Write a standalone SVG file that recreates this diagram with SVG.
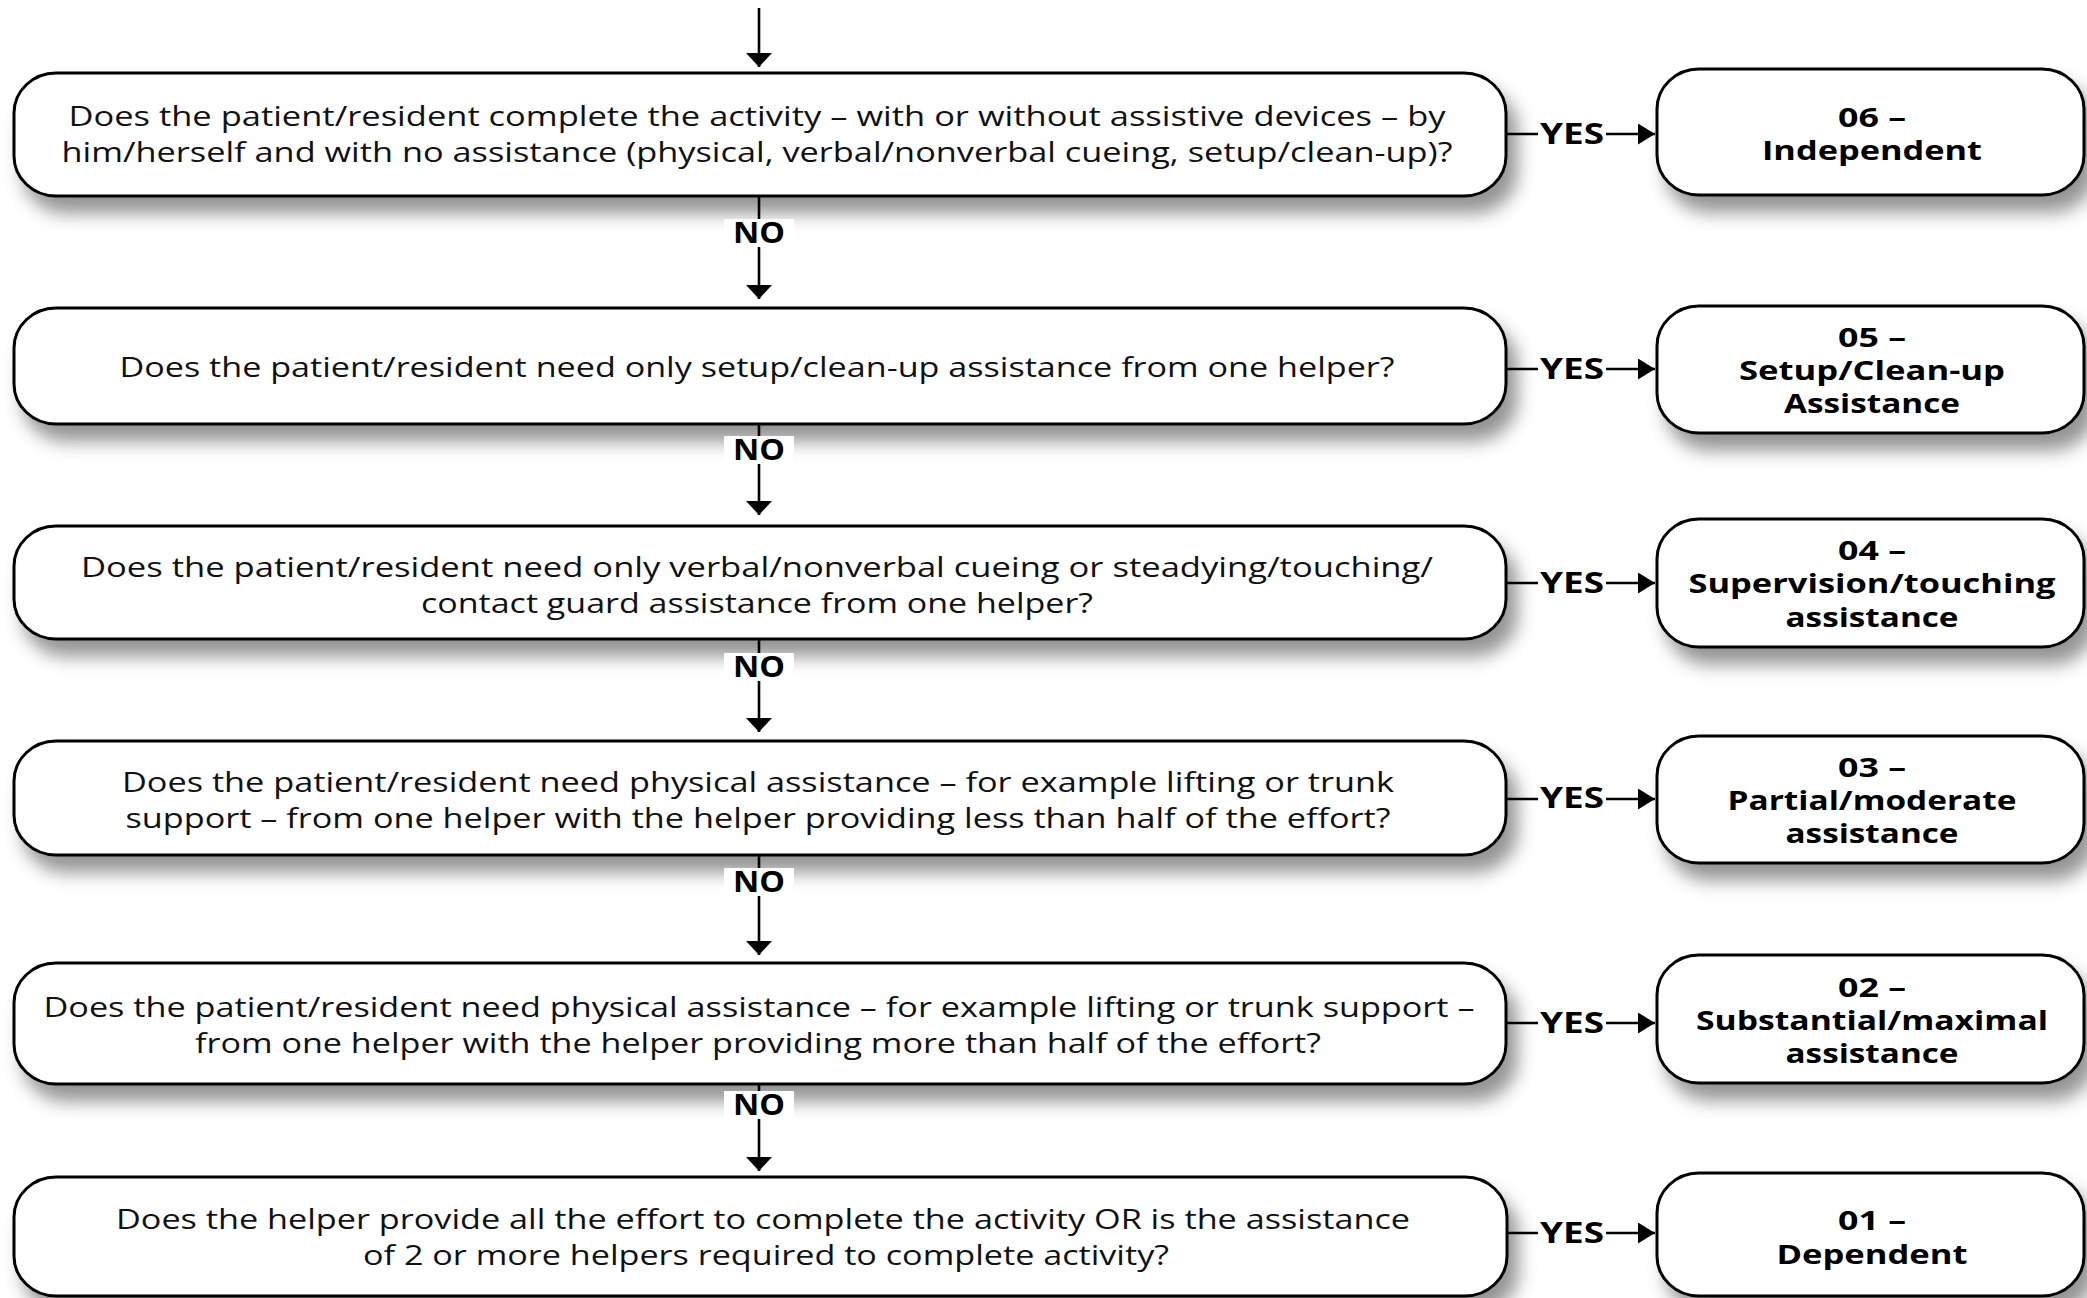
<svg xmlns="http://www.w3.org/2000/svg" width="2087" height="1298" viewBox="0 0 2087 1298">
<defs>
<filter id="sh" x="-10%" y="-30%" width="125%" height="180%">
<feDropShadow dx="10" dy="16" stdDeviation="9" flood-color="#000" flood-opacity="0.42"/>
</filter>
<marker id="ad" viewBox="0 0 14 26" refX="14" refY="13" markerWidth="14" markerHeight="26" markerUnits="userSpaceOnUse" orient="auto">
<path d="M0,0 L14,13 L0,26 Z" fill="#000"/>
</marker>
<marker id="ar" viewBox="0 0 17 21" refX="17" refY="10.5" markerWidth="17" markerHeight="21" markerUnits="userSpaceOnUse" orient="auto">
<path d="M0,0 L17,10.5 L0,21 Z" fill="#000"/>
</marker>
</defs>
<style>
.q{fill:#fff;stroke:#000;stroke-width:3}
.t{font-family:"Open Sans","Noto Sans",sans-serif;font-size:28px;fill:#111;text-anchor:middle}
.b{font-family:"Open Sans","Noto Sans",sans-serif;font-size:27px;font-weight:bold;fill:#000;text-anchor:middle}
.l{font-family:"Open Sans","Noto Sans",sans-serif;font-size:28px;font-weight:bold;fill:#000;text-anchor:middle}
.c{fill:none;stroke:#000;stroke-width:2.6}
.bg{fill:#fff}
</style>
<rect width="2087" height="1298" fill="#fff"/>

<g id="q1">
<rect class="q" filter="url(#sh)" x="14" y="73" width="1492" height="123" rx="42" ry="40"/>
<text class="t" x="757" y="126" textLength="1377" lengthAdjust="spacingAndGlyphs">Does the patient/resident complete the activity – with or without assistive devices – by</text>
<text class="t" x="757" y="162" textLength="1391" lengthAdjust="spacingAndGlyphs">him/herself and with no assistance (physical, verbal/nonverbal cueing, setup/clean-up)?</text>
</g>
<g id="q2">
<rect class="q" filter="url(#sh)" x="14" y="308" width="1492" height="116" rx="42" ry="40"/>
<text class="t" x="757" y="377" textLength="1275" lengthAdjust="spacingAndGlyphs">Does the patient/resident need only setup/clean-up assistance from one helper?</text>
</g>
<g id="q3">
<rect class="q" filter="url(#sh)" x="14" y="526" width="1492" height="113" rx="42" ry="40"/>
<text class="t" x="757" y="577" textLength="1352" lengthAdjust="spacingAndGlyphs">Does the patient/resident need only verbal/nonverbal cueing or steadying/touching/</text>
<text class="t" x="757" y="613" textLength="672" lengthAdjust="spacingAndGlyphs">contact guard assistance from one helper?</text>
</g>
<g id="q4">
<rect class="q" filter="url(#sh)" x="14" y="741" width="1492" height="114" rx="42" ry="40"/>
<text class="t" x="758" y="792" textLength="1272" lengthAdjust="spacingAndGlyphs">Does the patient/resident need physical assistance – for example lifting or trunk</text>
<text class="t" x="758" y="828" textLength="1265" lengthAdjust="spacingAndGlyphs">support – from one helper with the helper providing less than half of the effort?</text>
</g>
<g id="q5">
<rect class="q" filter="url(#sh)" x="14" y="963" width="1492" height="121" rx="42" ry="40"/>
<text class="t" x="759" y="1017" textLength="1431" lengthAdjust="spacingAndGlyphs">Does the patient/resident need physical assistance – for example lifting or trunk support –</text>
<text class="t" x="758" y="1053" textLength="1126" lengthAdjust="spacingAndGlyphs">from one helper with the helper providing more than half of the effort?</text>
</g>
<g id="q6">
<rect class="q" filter="url(#sh)" x="14" y="1177" width="1493" height="119" rx="42" ry="40"/>
<text class="t" x="763" y="1229" textLength="1294" lengthAdjust="spacingAndGlyphs">Does the helper provide all the effort to complete the activity OR is the assistance</text>
<text class="t" x="766" y="1265" textLength="806" lengthAdjust="spacingAndGlyphs">of 2 or more helpers required to complete activity?</text>
</g>

<g id="r06">
<rect class="q" filter="url(#sh)" x="1657" y="69" width="427" height="126" rx="42" ry="40"/>
<text class="b" x="1872" y="127" textLength="68" lengthAdjust="spacingAndGlyphs">06 –</text>
<text class="b" x="1872" y="160" textLength="220" lengthAdjust="spacingAndGlyphs">Independent</text>
</g>
<g id="r05">
<rect class="q" filter="url(#sh)" x="1657" y="306" width="427" height="127" rx="42" ry="40"/>
<text class="b" x="1872" y="347" textLength="68" lengthAdjust="spacingAndGlyphs">05 –</text>
<text class="b" x="1872" y="380" textLength="266" lengthAdjust="spacingAndGlyphs">Setup/Clean-up</text>
<text class="b" x="1872" y="413" textLength="176" lengthAdjust="spacingAndGlyphs">Assistance</text>
</g>
<g id="r04">
<rect class="q" filter="url(#sh)" x="1657" y="519" width="427" height="128" rx="42" ry="40"/>
<text class="b" x="1872" y="560" textLength="68" lengthAdjust="spacingAndGlyphs">04 –</text>
<text class="b" x="1872" y="593" textLength="367" lengthAdjust="spacingAndGlyphs">Supervision/touching</text>
<text class="b" x="1872" y="627" textLength="173" lengthAdjust="spacingAndGlyphs">assistance</text>
</g>
<g id="r03">
<rect class="q" filter="url(#sh)" x="1657" y="736" width="427" height="127" rx="42" ry="40"/>
<text class="b" x="1872" y="777" textLength="68" lengthAdjust="spacingAndGlyphs">03 –</text>
<text class="b" x="1872" y="810" textLength="289" lengthAdjust="spacingAndGlyphs">Partial/moderate</text>
<text class="b" x="1872" y="843" textLength="173" lengthAdjust="spacingAndGlyphs">assistance</text>
</g>
<g id="r02">
<rect class="q" filter="url(#sh)" x="1657" y="955" width="427" height="128" rx="42" ry="40"/>
<text class="b" x="1872" y="997" textLength="68" lengthAdjust="spacingAndGlyphs">02 –</text>
<text class="b" x="1872" y="1030" textLength="352" lengthAdjust="spacingAndGlyphs">Substantial/maximal</text>
<text class="b" x="1872" y="1063" textLength="173" lengthAdjust="spacingAndGlyphs">assistance</text>
</g>
<g id="r01">
<rect class="q" filter="url(#sh)" x="1657" y="1173" width="427" height="123" rx="42" ry="40"/>
<text class="b" x="1872" y="1230" textLength="68" lengthAdjust="spacingAndGlyphs">01 –</text>
<text class="b" x="1872" y="1264" textLength="191" lengthAdjust="spacingAndGlyphs">Dependent</text>
</g>

<g id="connectors">
<line class="c" x1="759" y1="8" x2="759" y2="67" marker-end="url(#ad)"/>
<line class="c" x1="759" y1="196" x2="759" y2="299" marker-end="url(#ad)"/>
<line class="c" x1="759" y1="424" x2="759" y2="515" marker-end="url(#ad)"/>
<line class="c" x1="759" y1="639" x2="759" y2="732" marker-end="url(#ad)"/>
<line class="c" x1="759" y1="855" x2="759" y2="955" marker-end="url(#ad)"/>
<line class="c" x1="759" y1="1084" x2="759" y2="1171" marker-end="url(#ad)"/>
<line class="c" x1="1506" y1="134" x2="1655" y2="134" marker-end="url(#ar)"/>
<line class="c" x1="1506" y1="369" x2="1655" y2="369" marker-end="url(#ar)"/>
<line class="c" x1="1506" y1="583" x2="1655" y2="583" marker-end="url(#ar)"/>
<line class="c" x1="1506" y1="799" x2="1655" y2="799" marker-end="url(#ar)"/>
<line class="c" x1="1506" y1="1023" x2="1655" y2="1023" marker-end="url(#ar)"/>
<line class="c" x1="1507" y1="1233" x2="1655" y2="1233" marker-end="url(#ar)"/>
<rect class="bg" x="724" y="219" width="70" height="28"/><text class="l" x="759" y="243" textLength="52" lengthAdjust="spacingAndGlyphs">NO</text>
<rect class="bg" x="724" y="436" width="70" height="28"/><text class="l" x="759" y="460" textLength="52" lengthAdjust="spacingAndGlyphs">NO</text>
<rect class="bg" x="724" y="653" width="70" height="28"/><text class="l" x="759" y="677" textLength="52" lengthAdjust="spacingAndGlyphs">NO</text>
<rect class="bg" x="724" y="868" width="70" height="28"/><text class="l" x="759" y="892" textLength="52" lengthAdjust="spacingAndGlyphs">NO</text>
<rect class="bg" x="724" y="1091" width="70" height="28"/><text class="l" x="759" y="1115" textLength="52" lengthAdjust="spacingAndGlyphs">NO</text>
<rect class="bg" x="1538" y="121" width="68" height="29"/><text class="l" x="1572" y="144" textLength="64" lengthAdjust="spacingAndGlyphs">YES</text>
<rect class="bg" x="1538" y="356" width="68" height="29"/><text class="l" x="1572" y="379" textLength="64" lengthAdjust="spacingAndGlyphs">YES</text>
<rect class="bg" x="1538" y="570" width="68" height="29"/><text class="l" x="1572" y="593" textLength="64" lengthAdjust="spacingAndGlyphs">YES</text>
<rect class="bg" x="1538" y="786" width="68" height="29"/><text class="l" x="1572" y="808" textLength="64" lengthAdjust="spacingAndGlyphs">YES</text>
<rect class="bg" x="1538" y="1010" width="68" height="29"/><text class="l" x="1572" y="1033" textLength="64" lengthAdjust="spacingAndGlyphs">YES</text>
<rect class="bg" x="1538" y="1220" width="68" height="29"/><text class="l" x="1572" y="1243" textLength="64" lengthAdjust="spacingAndGlyphs">YES</text>
</g>
</svg>
